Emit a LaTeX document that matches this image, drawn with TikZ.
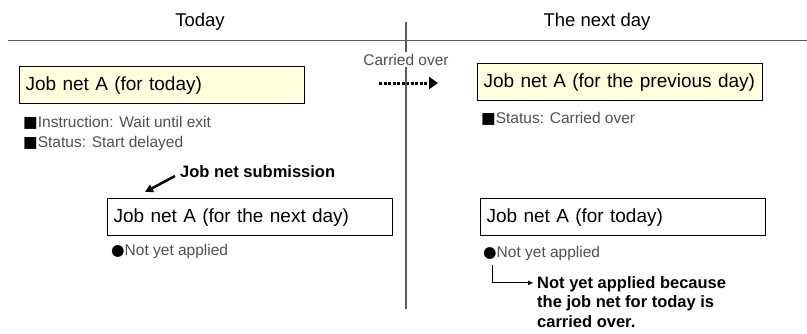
\documentclass[tikz,border=0pt]{standalone}
\usepackage{fontspec}
\setmainfont{Liberation Sans}
\newfontfamily\symfont{DejaVu Sans}
\usepackage{xcolor}
\usetikzlibrary{positioning, arrows.meta}
\definecolor{boxfill}{RGB}{255,255,221}
\definecolor{notegray}{RGB}{80,80,80}
\definecolor{linegray}{RGB}{90,90,90}
\newcommand{\sqm}{{\symfont\color{black}■}}
\newcommand{\dtm}{{\symfont\color{black}●}}

\begin{document}
\begin{tikzpicture}[x=1pt, y=1pt, node distance=20pt, auto,
    jobnet/.style={draw, line width=1.2pt, text width=273pt, inner xsep=6pt,
      minimum height=37pt, align=left, font=\fontsize{19}{23}\selectfont},
    current/.style={jobnet, fill=boxfill},
    note/.style={inner sep=0pt, align=left, text=notegray,
      font=\fontsize{15.5}{20}\selectfont},
    heading/.style={inner sep=0pt, font=\fontsize{18.5}{22}\selectfont},
    remark/.style={inner sep=0pt, align=left,
      font=\bfseries\fontsize{16.5}{19.5}\selectfont}]
   \useasboundingbox (0,0) rectangle (807,-333);

   % headings and the day boundary
   \node[heading, anchor=base] (hd_today) at (200,-26) {Today};
   \node[heading, anchor=base] (hd_next)  at (597,-26) {The next day};
   \coordinate (rule_w) at (8,-40);
   \coordinate (rule_e) at (807,-40);
   \coordinate (split_n) at (406,-22);
   \coordinate (split_s) at (406,-309);
   \draw[linegray, line width=0.9pt] (rule_w) -- (rule_e);

   % today
   \node[current, anchor=north west] (jn_today) at (19,-66) {Job net A (for today)};
   \node[note, below right=43pt and 4pt of jn_today.south west, anchor=base west] (st_today)
     {\sqm Instruction: Wait until exit\\\sqm Status: Start delayed};
   \node[jobnet, anchor=north west] (jn_next) at (107,-198) {Job net A (for the next day)};
   \node[note, below right=19pt and 4pt of jn_next.south west, anchor=base west] (ap_next)
     {\dtm Not yet applied};
   \node[remark, anchor=base west] (sub_lbl) at (180,-177) {Job net submission};
   \coordinate[below left=15pt and 35pt of sub_lbl.base west] (sub_tip);

   % the next day
   \node[current, anchor=north west] (jn_prev) at (477,-63) {Job net A (for the previous day)};
   \node[note, below right=22pt and 4pt of jn_prev.south west, anchor=base west] (st_prev)
     {\sqm Status: Carried over};
   \node[jobnet, anchor=north west] (jn_cur) at (480,-198) {Job net A (for today)};
   \node[note, below right=21pt and 3pt of jn_cur.south west, anchor=base west] (ap_cur)
     {\dtm Not yet applied};
   \node[remark, anchor=base west] (why) at (537,-327)
     {Not yet applied because\\the job net for today is\\carried over.};

   % carry over across the boundary
   \coordinate (carry_s) at (379,-83);
   \coordinate (carry_e) at (438,-83);
   \draw[line width=3pt, dash pattern=on 3pt off 1.5pt,
     -{Triangle[length=9pt, width=12pt]}] (carry_s) -- (carry_e);
   \draw[linegray, line width=2pt] (split_n) -- (split_s);
   \node[note, anchor=base, fill=white, inner sep=2pt] (carry_lbl) at (406,-65) {Carried over};

   \path[line width=2.5pt, -{Triangle[length=8pt, width=8pt]}]
     ([shift={(-5pt,1pt)}]sub_lbl.base west) edge (sub_tip);
   \draw[line width=0.8pt, -{Triangle[length=5pt, width=4.5pt]}]
     ([shift={(9pt,-8pt)}]ap_cur.base west) |- ([shift={(-4pt,-7pt)}]why.north west);
\end{tikzpicture}
\end{document}
